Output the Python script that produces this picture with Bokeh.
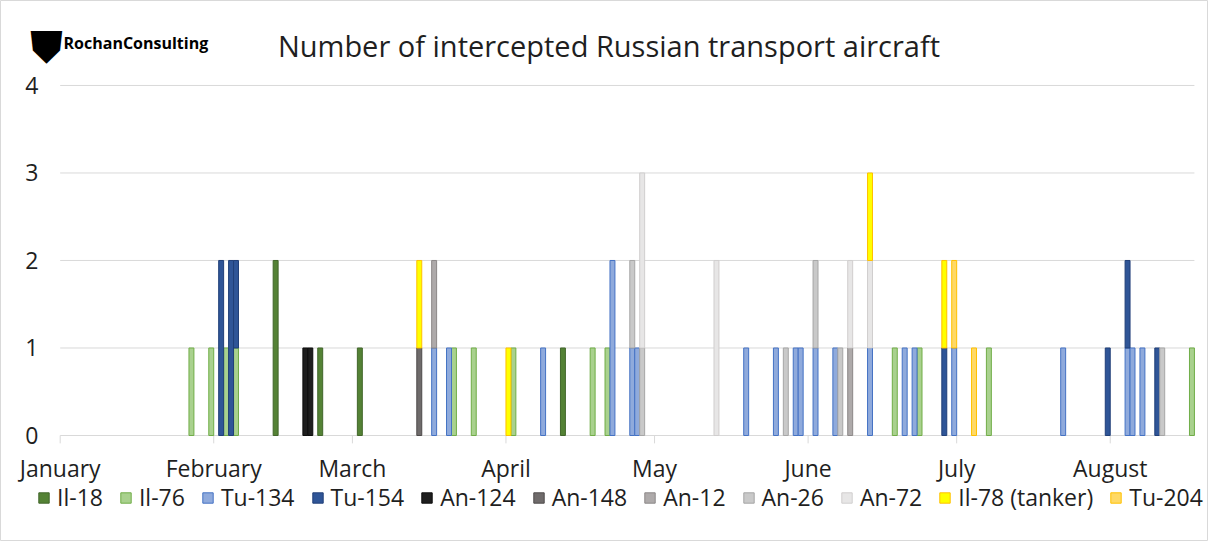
from bokeh.plotting import figure
from bokeh.models import ColumnDataSource, Legend, LegendItem, Range1d
from bokeh.core.properties import value
from bokeh.embed import file_html
from bokeh.resources import INLINE

# ---- data: day of year (0 = 1 January) of each interception, one entry per aircraft ----
il18_days = [43, 43, 52, 60, 101]
il76_days = [26, 30, 33, 35, 79, 83, 91, 107, 110, 168, 173, 187, 228]
tu134_days = [75, 78, 97, 111, 111, 115, 116, 138, 144, 148, 149, 152, 156, 163,
              170, 172, 180, 202, 215, 216, 218]
tu154_days = [32, 32, 34, 34, 35, 178, 211, 215, 221]
an124_days = [49, 50]
an148_days = [72]
an12_days = [75, 159]
an26_days = [115, 117, 146, 152, 157, 222]
an72_days = [117, 117, 132, 132, 159, 163]
il78_days = [72, 90, 163, 178]
tu204_days = [180, 184]

series_names = ["Il-18", "Il-76", "Tu-134", "Tu-154", "An-124", "An-148",
                "An-12", "An-26", "An-72", "Il-78 (tanker)", "Tu-204"]
series_days = [il18_days, il76_days, tu134_days, tu154_days, an124_days, an148_days,
               an12_days, an26_days, an72_days, il78_days, tu204_days]
fill_colors = ["#548235", "#a9d18e", "#8faadc", "#2f5597", "#1e1e1e", "#6f6b6b",
               "#aeaaaa", "#c9c9c9", "#e7e6e6", "#ffff00", "#ffd966"]
line_colors = ["#41662a", "#70ad47", "#4472c4", "#203f78", "#0d0d0d", "#4d4a4a",
               "#8c8888", "#a6a6a6", "#d0cece", "#ffc000", "#ffc000"]

month_names = ["January", "February", "March", "April", "May", "June", "July", "August"]
month_starts = [0, 31, 59, 90, 120, 151, 181, 212]
y_ticks = [0, 1, 2, 3, 4]
x_end = 229

title_text = "Number of intercepted Russian transport aircraft"
logo_text = "RochanConsulting"

FONT = "Open Sans"
TXT = "#1f1f1f"
GRID = "#d9d9d9"

# the frame fills the whole canvas; axes, header and legend are drawn inside it
x_lo, x_hi = -12.05, 231.84
y_lo, y_hi = -1.2114, 4.971

p = figure(width=1208, height=541,
           x_range=Range1d(x_lo, x_hi), y_range=Range1d(y_lo, y_hi),
           x_axis_location=None, y_axis_location=None,
           output_backend="svg", toolbar_location=None,
           min_border_left=0, min_border_right=0, min_border_top=0, min_border_bottom=0)
p.xgrid.visible = False
p.ygrid.visible = False
p.outline_line_color = GRID
p.background_fill_color = "white"

# horizontal grid lines across the plotting area (0 .. x_end)
n = len(y_ticks)
p.segment(x0=[0] * n, y0=y_ticks, x1=[x_end] * n, y1=y_ticks,
          line_color=GRID, line_width=1)

# y tick labels
p.text(x=[-4.4] * n, y=y_ticks, text=[str(t) for t in y_ticks],
       text_font=value(FONT), text_font_size="23px", text_color=TXT,
       text_align="right", text_baseline="middle")

# x ticks at month starts and month labels centred under them
m = len(month_starts)
p.segment(x0=month_starts, y0=[0] * m, x1=month_starts, y1=[-0.09] * m,
          line_color=GRID, line_width=1)
p.text(x=month_starts, y=[-0.375] * m, text=month_names,
       text_font=value(FONT), text_font_size="23px", text_color=TXT,
       text_align="center", text_baseline="middle")

# stacked daily bars
all_days = sorted(set(d for ds in series_days for d in ds))
level = {d: 0 for d in all_days}
items = []
for name, ds, fc, lc in zip(series_names, series_days, fill_colors, line_colors):
    xs, bot, top = [], [], []
    for d in sorted(set(ds)):
        c = ds.count(d)
        xs.append(d + 0.5)
        bot.append(level[d])
        top.append(level[d] + c)
        level[d] += c
    src = ColumnDataSource(dict(x=xs, bottom=bot, top=top))
    r = p.vbar(x="x", bottom="bottom", top="top", width=1.0, source=src,
               fill_color=fc, line_color=lc, line_width=1)
    items.append(LegendItem(label=name, renderers=[r]))

# header: title and logo
p.text(x=[110.8], y=[4.457], text=[title_text], text_font=value(FONT),
       text_font_size="29px", text_color=TXT, text_align="center", text_baseline="middle")
p.text(x=[0.67], y=[4.48], text=[logo_text], text_font=value(FONT),
       text_font_size="16px", text_font_style="bold", text_color="black",
       text_align="left", text_baseline="middle")
p.text(x=[-2.77], y=[4.44], text=["\u26ca"], text_font=value("DejaVu Sans"),
       text_font_size="44px", text_color="black",
       text_align="center", text_baseline="middle")

legend = Legend(items=items, orientation="horizontal", location=(37, 28))
legend.label_text_font = FONT
legend.label_text_font_size = "23px"
legend.label_text_color = TXT
legend.glyph_width = 13
legend.glyph_height = 13
legend.label_standoff = 7
legend.spacing = 16
legend.padding = 0
legend.margin = 0
legend.border_line_color = None
legend.background_fill_alpha = 0
p.add_layout(legend)

open("out.html", "w").write(file_html(p, INLINE))
